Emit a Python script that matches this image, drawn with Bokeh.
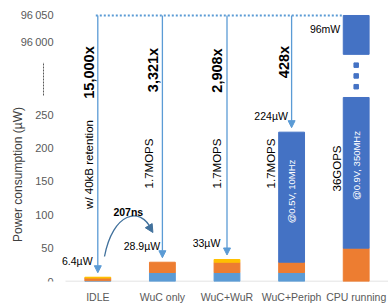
import numpy as np
from bokeh.plotting import figure
from bokeh.models import (ColumnDataSource, Range1d, FixedTicker, Arrow,
                          NormalHead)
from bokeh.core.properties import value
from bokeh.embed import file_html
from bokeh.resources import INLINE

# ---------------- data ----------------
categories = ["IDLE", "WuC only", "WuC+WuR", "WuC+Periph", "CPU running"]
wuc_power = [1.0, 13.5, 13.5, 13.5, 0.0]          # light blue
mem_power = [4.2, 15.4, 15.4, 15.4, 50.0]         # orange
wur_power = [1.2, 0.0, 4.1, 0.0, 0.0]             # yellow
core_power = [0.0, 0.0, 0.0, 195.1, 96000.0]      # dark blue
total_labels = ["6.4µW", "28.9µW", "33µW", "224µW", "96mW"]
ratio_labels = ["15,000x", "3,321x", "2,908x", "428x"]
perf_labels = ["w/ 40kB retention", "1.7MOPS", "1.7MOPS", "1.7MOPS", "36GOPS"]
op_labels = ["@0.5V, 10MHz", "@0.9V, 350MHz"]
delay_label = "207ns"
y_title = "Power consumption (µW)"
y_ticks_low = [0, 50, 100, 150, 200, 250]
y_tick_labels_low = ["0", "50", "100", "150", "200", "250"]
y_ticks_high = [96000, 96050]
y_tick_labels_high = ["96\u2009000", "96\u2009050"]

series = [wuc_power, mem_power, wur_power, core_power]
colors = ["#5b9bd5", "#ed7d31", "#ffc000", "#4472c4"]

# ---------------- broken axis mapping ----------------
LOW_MAX = 276.0       # top of the lower axis segment
HIGH_MIN = 95978.0    # bottom of the upper axis segment
HIGH_REF = 96000.0
HIGH_AT = 358.5       # display position of HIGH_REF
HIGH_SCALE = 0.81


def disp(v):
    v = np.asarray(v, dtype=float)
    return np.where(v <= LOW_MAX, v, HIGH_AT + (v - HIGH_REF) * HIGH_SCALE)


W, H = 388, 308
AXIS_LEFT_PX = 65     # where the category area starts
BOTTOM = 27
PX_X = 64.6    # px per category
PX_Y = 0.6667  # px per display unit
BASE_PX = H - BOTTOM  # screen y of zero


def dx(px):
    return px / PX_X


def dy(px):
    return px / PX_Y


def sy(screen_y):
    return (BASE_PX - screen_y) / PX_Y


FONT = "Liberation Sans"

xs = np.arange(len(categories))
totals = np.sum(np.array(series), axis=0)

# build bar segments (split across the axis break)
seg = dict(x=[], bottom=[], top=[], color=[])
cum = np.zeros(len(categories))
for s, c in zip(series, colors):
    s = np.array(s, float)
    for i in range(len(categories)):
        b, t = cum[i], cum[i] + s[i]
        if t <= b:
            continue
        if t <= LOW_MAX or b >= HIGH_MIN:
            parts = [(b, t)]
        else:
            parts = [(b, LOW_MAX), (HIGH_MIN, t)]
        for pb, pt in parts:
            seg["x"].append(xs[i])
            seg["bottom"].append(float(disp(pb)))
            seg["top"].append(float(disp(pt)))
            seg["color"].append(c)
    cum += s

x_start = -0.5 - dx(AXIS_LEFT_PX)
x_end = x_start + W / PX_X
p = figure(width=W, height=H, output_backend="svg", toolbar_location=None,
           x_range=Range1d(x_start, x_end), y_range=Range1d(0, BASE_PX / PX_Y),
           y_axis_location=None,
           min_border_left=0, min_border_right=0, min_border_top=0,
           min_border_bottom=BOTTOM)
p.outline_line_color = None
p.xgrid.visible = False
p.ygrid.visible = False
p.background_fill_color = "white"

# baseline
p.segment(x0=[-0.5], y0=[0], x1=[x_end], y1=[0], line_color="#d9d9d9",
          line_width=1.5)

p.vbar(x="x", bottom="bottom", top="top", width=0.4, color="color",
       source=ColumnDataSource(seg))

# break dots in CPU bar
hi_disp = float(disp(HIGH_MIN))
dots_y = np.linspace(LOW_MAX, hi_disp, 5)[1:4]
p.scatter(x=[xs[4]] * 3, y=dots_y, marker="square", size=4.5,
          color="#4472c4")

# ---------------- y axis (broken): labels, break marker, title ----------------
tick_y = list(y_ticks_low) + [float(v) for v in disp(y_ticks_high)]
tick_txt = list(y_tick_labels_low) + list(y_tick_labels_high)
p.text(x=[-0.5 - dx(12)] * len(tick_y), y=tick_y, text=tick_txt,
       text_align="right", text_baseline="middle", text_font=value(FONT),
       text_font_size="11px", text_color="#595959")
p.segment(x0=[-0.5 - dx(22)], y0=[LOW_MAX + dy(2)], x1=[-0.5 - dx(22)],
          y1=[hi_disp - dy(8)], line_color="#595959", line_width=1,
          line_dash="2 1")
p.text(x=[-0.5 - dx(48)], y=[sy(174)], text=[y_title], angle=np.pi / 2,
       text_align="center", text_baseline="middle", text_font=value(FONT),
       text_font_size="12px", text_color="#404040")

# ---------------- x axis ----------------
p.xaxis.ticker = FixedTicker(ticks=list(xs))
p.xaxis.major_label_overrides = {int(i): c for i, c in zip(xs, categories)}
p.xaxis.axis_line_color = None
p.xaxis.major_tick_line_color = None
p.xaxis.minor_tick_line_color = None
p.xaxis.major_label_standoff = 3
p.xaxis.major_label_text_font = FONT
p.xaxis.major_label_text_font_size = "10.5px"
p.xaxis.major_label_text_color = "#595959"

# ---------------- top reference line and arrows ----------------
top_y = float(disp(totals[4]))
p.segment(x0=[xs[0] - dx(2)], y0=[top_y], x1=[xs[4] - 0.2], y1=[top_y],
          line_color="#5b9bd5", line_width=2, line_dash="2 2")

arrow_src = ColumnDataSource(dict(
    x=list(xs[:4]), ys=[top_y] * 4,
    ye=list(disp(totals[:4]) + dy(4.5))))
p.add_layout(Arrow(end=NormalHead(size=7, fill_color="#5b9bd5", line_color="#5b9bd5"),
                   x_start="x", y_start="ys", x_end="x", y_end="ye",
                   source=arrow_src, line_color="#5b9bd5", line_width=1.3))

# ratio labels (bold, rotated)
ratio_dx = [-9.3, -9.5, -10.5, -7.5]
ratio_y = [72, 69.5, 70, 61.5]
p.text(x=[xs[i] + dx(ratio_dx[i]) for i in range(4)],
       y=[sy(v) for v in ratio_y], text=ratio_labels,
       angle=np.pi / 2, text_align="center", text_baseline="middle",
       text_font=value(FONT), text_font_style="bold", text_font_size="14.5px",
       text_color="black")

# performance labels (rotated)
perf_dx = [-9.3, -13, -10.5, -21, -19]
perf_y = [164, 163, 163, 163, 168]
p.text(x=[xs[i] + dx(perf_dx[i]) for i in range(5)],
       y=[sy(v) for v in perf_y], text=perf_labels,
       angle=np.pi / 2, text_align="center", text_baseline="middle",
       text_font=value(FONT), text_font_size="11.5px", text_color="black")

# operating point labels (white, inside bars)
p.text(x=[xs[3], xs[4]], y=[sy(191), sy(165)], text=op_labels,
       angle=np.pi / 2, text_align="center", text_baseline="middle",
       text_font=value(FONT), text_font_size="9.5px", text_color="white")

# value labels
p.text(x=[xs[i] - dx(20.5) for i in range(4)],
       y=list(disp(totals[:4]) + dy(16)), text=total_labels[:4],
       text_align="center", text_baseline="middle",
       text_font=value(FONT), text_font_size="10.5px", text_color="black")
p.text(x=[xs[4] - 0.2 - dx(3)], y=[top_y - dy(13.5)], text=[total_labels[4]],
       text_align="right", text_baseline="middle",
       text_font=value(FONT), text_font_size="10.5px", text_color="black")

# curved wake-up arrow with delay label
x0, y0 = xs[0] + dx(6.7), float(sy(256))
x1, y1 = xs[1] + dx(-11), float(sy(229))
p.bezier(x0=[x0], y0=[y0], x1=[x1], y1=[y1],
         cx0=[xs[0] + dx(15)], cy0=[sy(212)],
         cx1=[xs[1] + dx(-22)], cy1=[sy(205)],
         line_color="#41719c", line_width=1.3)
p.add_layout(Arrow(end=NormalHead(size=8, fill_color="#41719c", line_color="#41719c"),
                   x_start=x1 - dx(4), y_start=y1 + dy(6), x_end=x1 + dx(1.5),
                   y_end=y1 - dy(3), line_alpha=0))
p.text(x=[xs[0] + dx(30.5)], y=[sy(211)], text=[delay_label],
       text_align="center", text_baseline="middle",
       text_font=value(FONT), text_font_style="bold", text_font_size="10.5px",
       text_color="black")

open("out.html", "w").write(file_html(p, INLINE))
